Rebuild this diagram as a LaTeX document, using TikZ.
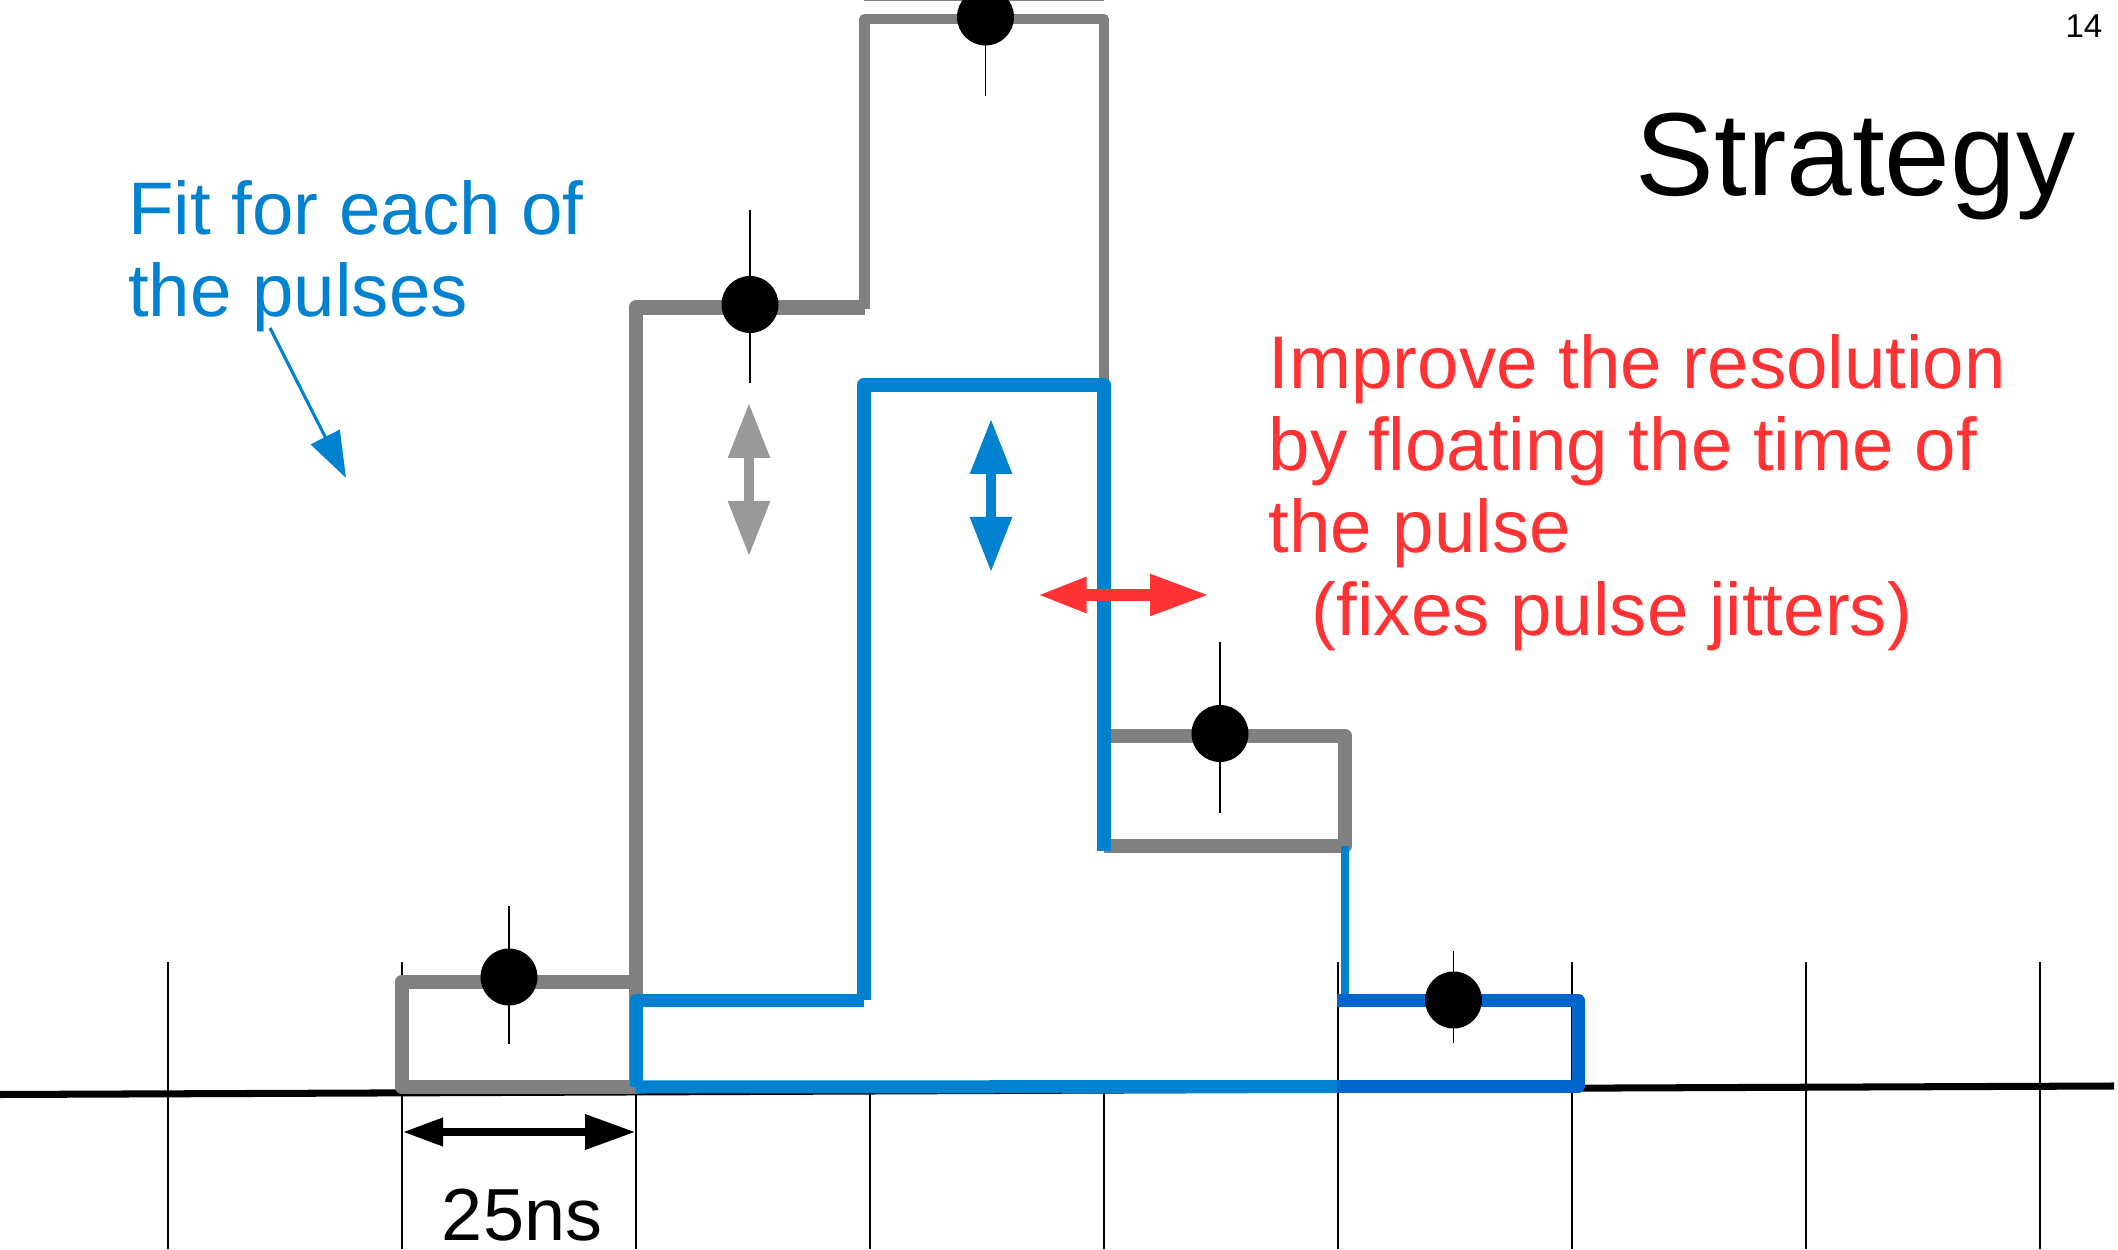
\documentclass[tikz,border=0pt]{standalone}
\usepackage{fontspec}
\setmainfont{Liberation Sans}
\usepackage{tikz}
\usetikzlibrary{arrows.meta}
\usepackage{xcolor}
\definecolor{fitblue}{RGB}{0, 130, 208}
\definecolor{binblue}{RGB}{0, 102, 204}
\definecolor{histgray}{RGB}{128, 128, 128}
\definecolor{arrowgray}{RGB}{153, 153, 153}
\definecolor{notered}{RGB}{255, 51, 51}

\begin{document}
\begin{tikzpicture}[>=Stealth,
    gridline/.style={black, line width=0.4pt},
    histline/.style={histgray, line width=4.2pt, line join=round},
    fitline/.style={fitblue, line width=4.2pt, line join=round},
    errbar/.style={black, line width=0.35pt},
    bigtip/.style={{Triangle[length=5.5mm, width=4mm]}-{Triangle[length=5.5mm, width=4mm]}},
    notetext/.style={inner sep=0pt, align=left, font=\fontsize{21.2}{23.4}\selectfont}]

  \useasboundingbox (0, 0) rectangle (21.18, 12.49);
  \clip (0, 0) rectangle (21.18, 12.49);

  % --- Time grid and axis ---
  \foreach \gx in {1.68, 4.02, 13.38, 15.72, 18.06, 20.40}
    \draw[gridline] (\gx, 0) -- (\gx, 2.87);
  \foreach \gx in {6.36, 8.70, 11.04}
    \draw[gridline] (\gx, 0) -- (\gx, 1.6);
  \draw[black, line width=2pt] (0, 1.545) -- (21.14, 1.63);

  % --- Measured samples (gray) ---
  \draw[histgray, line width=0.5pt] (8.64, 12.485) -- (11.04, 12.485);
  \draw[histline] (4.02, 1.62) rectangle (6.36, 2.67);
  \draw[histline] (6.36, 1.62) -- (6.36, 9.415) -- (8.645, 9.415);
  \draw[histline, line width=2.9pt] (8.645, 9.40) -- (8.645, 12.30)
    -- (11.04, 12.30) -- (11.04, 5.13);
  \draw[histline] (11.04, 5.13) -- (13.45, 5.13) -- (13.45, 4.03) -- (11.04, 4.03);

  % --- Fitted pulse (blue) ---
  \draw[fitline, line width=3.7pt] (6.36, 1.62) -- (6.36, 2.49) -- (8.64, 2.49);
  \draw[fitline] (8.64, 2.49) -- (8.64, 8.64) -- (11.04, 8.64) -- (11.04, 3.98);
  \draw[fitline, line width=3.7pt] (6.36, 1.62) -- (13.37, 1.625);
  \draw[fitblue, line width=2.3pt] (13.45, 4.03) -- (13.45, 2.49);
  \draw[fitline, binblue, line width=3.7pt] (13.37, 2.49) -- (15.78, 2.49) -- (15.78, 1.63) -- (13.37, 1.63);

  % --- Amplitude and time arrows ---
  \draw[bigtip, arrowgray, line width=2.6pt] (7.49, 8.46) -- (7.49, 6.93);
  \draw[bigtip, fitblue, line width=2.6pt] (9.91, 8.30) -- (9.91, 6.77);
  \draw[{Triangle[length=4.9mm, width=3.3mm]}-{Triangle[length=5.9mm, width=3.9mm]}, notered, line width=3.2pt]
    (10.375, 6.54) -- (12.09, 6.54);

  % --- Samples with error bars ---
  \draw[errbar] (5.09, 3.43) -- (5.09, 2.05);
  \draw[errbar] (7.50, 10.39) -- (7.50, 8.66);
  \draw[errbar] (9.855, 12.60) -- (9.855, 11.53);
  \draw[errbar] (12.20, 6.07) -- (12.20, 4.36);
  \draw[errbar] (14.535, 2.98) -- (14.535, 2.06);
  \foreach \px/\py in {5.09/2.72, 7.50/9.445, 9.855/12.32, 12.20/5.155, 14.535/2.49}
    \fill[black] (\px, \py) circle (0.285);

  % --- Bin width ---
  \coordinate (binL) at (4.03, 1.17);
  \coordinate (binR) at (6.35, 1.17);
  \draw[{Triangle[length=4mm, width=2.7mm]}-{Triangle[length=5mm, width=3.4mm]}, line width=2pt]
    (binL) -- (binR);
  \node[anchor=base, inner sep=0pt, font=\fontsize{21}{24}\selectfont] (binwidth) at (5.22, 0.09) {25ns};

  % --- Labels ---
  \node[anchor=base east, inner sep=0pt, font=\fontsize{9.4}{11}\selectfont] (pagenum) at (21.03, 12.11) {14};
  \node[anchor=base east, inner sep=0pt, font=\fontsize{33.6}{40}\selectfont] (title) at (20.76, 10.53) {Strategy};
  \node[notetext, fitblue, anchor=base west] (fitnote) at (1.275, 9.32) {Fit for each of\\the pulses};
  \node[notetext, notered, anchor=base west] (floatnote) at (12.68, 6.14)
    {Improve the resolution\\by floating the time of\\the pulse\\\hspace{0.43cm}(fixes pulse jitters)};

  % pointer from the fit note
  \coordinate (fitfrom) at (2.70, 9.21);
  \coordinate (fitto) at (3.46, 7.71);
  \draw[-{Triangle[length=4.6mm, width=3.2mm]}, fitblue, line width=0.9pt] (fitfrom) -- (fitto);

\end{tikzpicture}
\end{document}
